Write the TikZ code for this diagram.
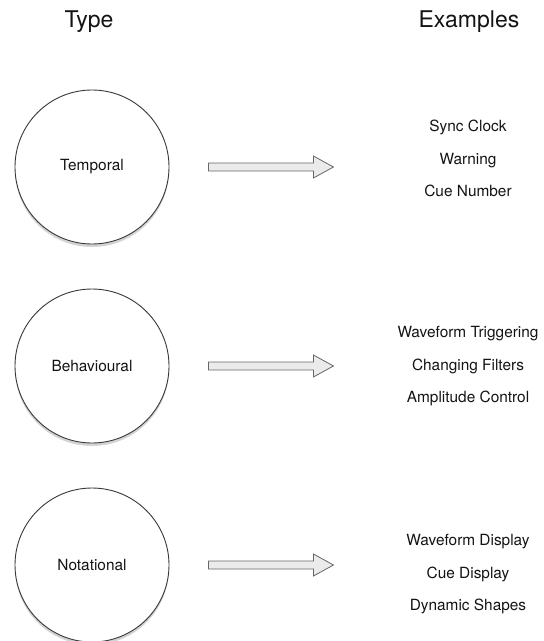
\documentclass[tikz,border=0pt]{standalone}
\usepackage{fontspec}
\setmainfont{TeX Gyre Heros}
\usetikzlibrary{positioning,shadows,calc}

% hollow block arrow between two named points
\newcommand{\blockarrow}[2]{%
  \draw[arrowbody] ($(#1)+(0,-4)$) -- ($(#2)+(-20,-4)$) -- ($(#2)+(-20,-11)$) -- (#2)
    -- ($(#2)+(-20,11)$) -- ($(#2)+(-20,4)$) -- ($(#1)+(0,4)$) -- cycle;}

\begin{document}
\begin{tikzpicture}[x=1pt,y=-1pt,font=\fontsize{15.4}{18}\selectfont,color=black!92,
    typecircle/.style={circle,draw=black!78,line width=0.9pt,fill=white,minimum size=154pt,inner sep=0pt,
      drop shadow={opacity=0.35,shadow xshift=0pt,shadow yshift=-3pt}},
    arrowbody/.style={draw=black!60,fill=black!8,line width=0.8pt,line join=miter},
    heading/.style={font=\fontsize{23}{27}\selectfont},
    example/.style={inner sep=0pt,text height=11pt,text depth=3.5pt},
    node distance=17.5pt]
	\useasboundingbox (0,0) rectangle (544,641);

	\node[heading] (type) at (89,22) {Type};
	\node[heading] (examples) at (469,22) {Examples};

	\node[typecircle] (temporal) at (92,167) {Temporal};
	\node[typecircle] (behavioural) at (92,366) {Behavioural};
	\node[typecircle] (notational) at (92,565) {Notational};

	\node[example] (sync) at (468,128) {Sync Clock};
	\node[example,below=of sync] (warning) {Warning};
	\node[example,below=of warning] (cuenum) {Cue Number};

	\node[example] (trigger) at (468,334) {Waveform Triggering};
	\node[example,below=of trigger] (filters) {Changing Filters};
	\node[example,below=of filters] (amp) {Amplitude Control};

	\node[example] (wavedisp) at (468,542) {Waveform Display};
	\node[example,below=of wavedisp] (cuedisp) {Cue Display};
	\node[example,below=of cuedisp] (shapes) {Dynamic Shapes};

	\coordinate[right=39pt of temporal] (t-tail);
	\coordinate[right=125pt of t-tail] (t-tip);
	\coordinate[right=39pt of behavioural] (b-tail);
	\coordinate[right=125pt of b-tail] (b-tip);
	\coordinate[right=39pt of notational] (n-tail);
	\coordinate[right=125pt of n-tail] (n-tip);

	\blockarrow{t-tail}{t-tip}
	\blockarrow{b-tail}{b-tip}
	\blockarrow{n-tail}{n-tip}
\end{tikzpicture}
\end{document}
